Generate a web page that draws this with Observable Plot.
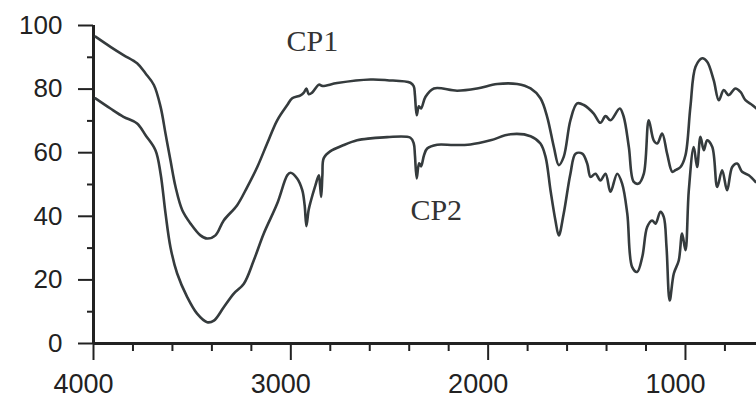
<!DOCTYPE html>
<html><head><meta charset="utf-8">
<script src="https://cdn.jsdelivr.net/npm/d3@7"></script>
<script src="https://cdn.jsdelivr.net/npm/@observablehq/plot@0.6"></script>
<style>body{margin:0;background:#fff}</style>
</head><body><div id="chart"></div>
<script>
// Wavenumber (cm-1) and transmittance (%)
const cp1Wavenumber = [3990,3914,3848,3779,3736,3694,3660,3635,3610,3584,3550,3508,3458,3424,3382,3340,3272,3221,3170,3120,3069,3018,2993,2951,2934,2921,2909,2892,2858,2840,2765,2596,2512,2394,2377,2371,2362,2351,2340,2318,2275,2157,2056,1954,1853,1785,1735,1701,1667,1642,1617,1583,1549,1515,1465,1431,1405,1380,1333,1313,1287,1262,1237,1211,1186,1161,1143,1118,1093,1067,1051,1025,1000,975,949,915,890,857,831,806,781,747,721,696,662,640];
const cp1Transmittance = [96.5,93.3,90.7,88.1,84.9,81.3,74.4,66.0,57.6,49.2,41.9,37.7,34.0,33.0,34.0,38.7,43.5,49.2,55.5,62.9,70.2,75.0,77.1,78.0,78.9,80.2,78.4,78.9,81.4,81.0,81.9,83.0,82.8,82.0,80.9,78.1,71.8,74.6,73.9,77.5,80.2,79.5,80.2,81.6,81.6,80.2,77.1,71.3,61.8,56.1,58.7,70.2,75.5,75.0,72.3,69.4,71.5,70.2,73.9,71.3,61.8,50.8,50.3,53.4,70.2,63.9,62.9,66.0,59.7,54.0,54.5,55.5,59.2,74.4,87.0,89.7,88.6,82.8,76.5,79.7,78.1,80.2,79.1,76.5,75.0,73.9];

const cp2Wavenumber = [3990,3914,3848,3779,3736,3686,3660,3635,3610,3576,3525,3475,3424,3390,3340,3289,3238,3188,3137,3069,3018,3002,2968,2942,2930,2921,2910,2900,2875,2858,2852,2846,2840,2833,2799,2732,2664,2596,2512,2394,2377,2371,2362,2350,2340,2325,2309,2258,2174,2090,1988,1887,1785,1735,1709,1684,1659,1642,1617,1583,1557,1523,1498,1481,1456,1431,1405,1380,1346,1321,1295,1270,1245,1219,1194,1169,1152,1127,1110,1096,1080,1059,1034,1017,1000,983,958,941,924,907,890,864,839,814,789,763,738,713,679,645];
const cp2Transmittance = [77.1,73.9,71.3,69.2,65.5,60.8,53.4,40.9,30.3,22.0,14.6,9.4,6.7,7.2,11.4,15.7,18.8,26.1,34.6,44.0,52.9,53.7,51.9,48.2,43.5,36.9,41.9,44.5,49.8,52.9,49.8,46.1,52.9,58.3,60.5,62.4,63.9,64.5,64.9,64.7,62.9,59.2,51.9,56.7,55.7,59.2,61.3,62.5,62.4,62.6,63.9,65.8,65.2,62.9,58.7,48.2,38.7,34.0,40.9,53.4,59.7,59.7,56.6,52.4,53.4,51.3,53.4,47.7,53.4,50.3,40.9,24.0,22.5,27.2,36.6,38.7,37.7,41.4,39.8,30.3,13.5,22.0,26.1,34.6,29.3,48.2,61.8,55.5,65.0,60.8,63.9,61.8,49.2,54.5,48.2,55.5,56.6,54.0,52.9,50.8];

const seriesNames = ["CP1", "CP2"];
const labelX = [3022, 2394];
const labelY = [94.9, 41.9];

const xMajorTicks = [4000, 3000, 2000, 1000];
const xMinorTicks = [3800, 3600, 3400, 3200, 2800, 2600, 2400, 2200, 1800, 1600, 1400, 1200, 800];
const yMajorTicks = [0, 20, 40, 60, 80, 100];
const yMinorTicks = [10, 30, 50, 70, 90];

const cp1 = cp1Wavenumber.map((w, i) => ({w, t: cp1Transmittance[i]}));
const cp2 = cp2Wavenumber.map((w, i) => ({w, t: cp2Transmittance[i]}));
const labels = seriesNames.map((name, i) => ({name, x: labelX[i], y: labelY[i]}));

const ink = "#222";
const lineInk = "#353b3d";

const chart = Plot.plot({
  width: 756,
  height: 400,
  marginLeft: 93,
  marginRight: 0,
  marginTop: 25,
  marginBottom: 57,
  style: {fontFamily: "'Liberation Sans', Arial, sans-serif", background: "#fff", color: ink},
  x: {domain: [4000, 640], label: null},
  y: {domain: [0, 100], label: null},
  marks: [
    Plot.axisX({ticks: xMajorTicks, tickSize: 17, strokeWidth: 2, stroke: ink, tickFormat: () => "", label: null}),
    Plot.axisX({ticks: xMinorTicks, tickSize: 8, strokeWidth: 2, stroke: ink, tickFormat: () => "", label: null}),
    Plot.axisX({ticks: xMajorTicks, tickSize: 0, tickPadding: 30, dx: -10, fontSize: 27, fill: ink, tickFormat: d => String(d), label: null}),
    Plot.axisY({ticks: yMajorTicks, tickSize: 15, strokeWidth: 2, stroke: ink, tickFormat: () => "", label: null}),
    Plot.axisY({ticks: yMinorTicks, tickSize: 6, strokeWidth: 2, stroke: ink, tickFormat: () => "", label: null}),
    Plot.axisY({ticks: yMajorTicks, tickSize: 0, tickPadding: 31, fontSize: 26, fill: ink, tickFormat: d => String(d), label: null}),
    Plot.ruleX([4000], {stroke: ink, strokeWidth: 3}),
    Plot.ruleY([0], {stroke: ink, strokeWidth: 3}),
    Plot.line(cp1, {x: "w", y: "t", stroke: lineInk, strokeWidth: 2.6, curve: "catmull-rom"}),
    Plot.line(cp2, {x: "w", y: "t", stroke: lineInk, strokeWidth: 2.6, curve: "catmull-rom"}),
    Plot.text(labels, {x: "x", y: "y", text: "name", textAnchor: "start", fontSize: 30, fontFamily: "'Liberation Serif', 'Times New Roman', serif", fill: "#333"})
  ]
});
document.getElementById("chart").append(chart);
</script>
</body></html>
